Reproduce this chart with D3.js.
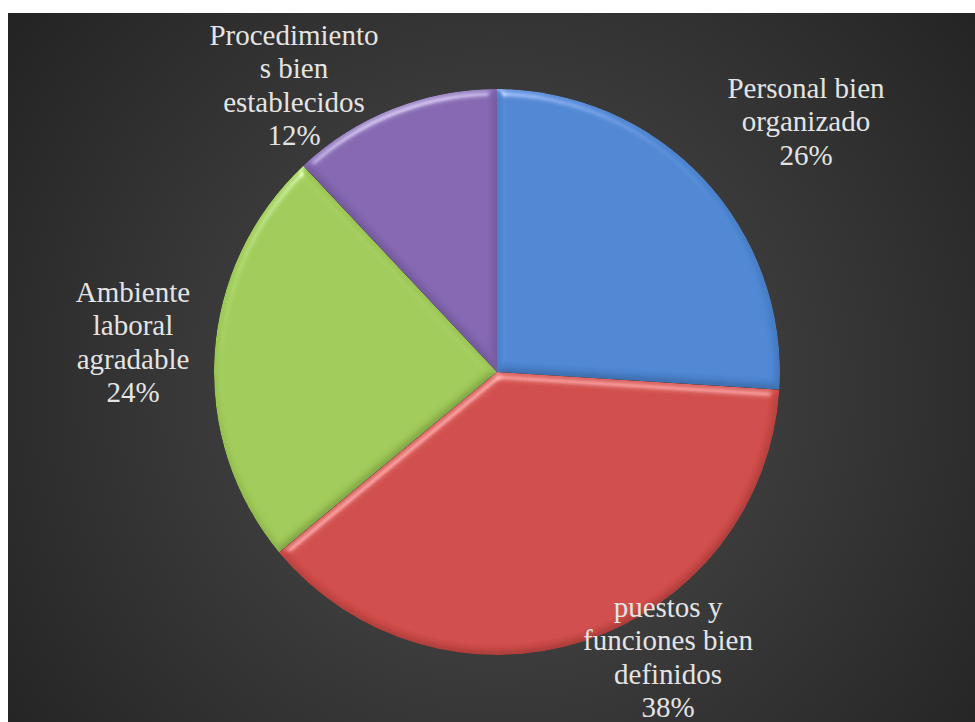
<!DOCTYPE html>
<html>
<head>
<meta charset="utf-8">
<script src="https://cdn.jsdelivr.net/npm/d3@7"></script>
<style>
  html, body { margin: 0; padding: 0; background: #ffffff; }
  svg { display: block; }
  .lbl { font-family: "Liberation Serif", "Tinos", "Noto Serif", "DejaVu Serif", "Times New Roman", Times, serif; }
</style>
</head>
<body>
<svg id="chart" width="975" height="722"></svg>
<script>
// Survey shares, clockwise from 12 o'clock
const categories = [
  "Personal bien organizado",
  "puestos y funciones bien definidos",
  "Ambiente laboral agradable",
  "Procedimientos bien establecidos"
];
const values = [26, 38, 24, 12];
const labelLines = [
  ["Personal bien", "organizado"],
  ["puestos y", "funciones bien", "definidos"],
  ["Ambiente", "laboral", "agradable"],
  ["Procedimiento", "s bien", "establecidos"]
];
const colors = ["#4d86d2", "#d04c49", "#a0cb58", "#8366b0"];

// Label block anchors: centre x and baseline of the first line
const labelAnchors = [
  { x: 806, y: 98 },
  { x: 668, y: 617 },
  { x: 133, y: 302 },
  { x: 294, y: 45 }
];

const W = 975, H = 722;
const cx = 497, cy = 372, R = 283;
const svg = d3.select("#chart");
const defs = svg.append("defs");

// Dark radial backdrop
const bg = defs.append("radialGradient")
  .attr("id", "bgGrad")
  .attr("gradientUnits", "userSpaceOnUse")
  .attr("cx", 500).attr("cy", 390).attr("r", 620);
bg.append("stop").attr("offset", "0%").attr("stop-color", "#4e4e4e");
bg.append("stop").attr("offset", "100%").attr("stop-color", "#232323");

svg.append("rect")
  .attr("x", 8).attr("y", 13)
  .attr("width", W - 8).attr("height", H - 13)
  .attr("fill", "url(#bgGrad)");

// Soft bevel for each wedge
const bevel = defs.append("filter")
  .attr("id", "bevel")
  .attr("x", "-10%").attr("y", "-10%")
  .attr("width", "120%").attr("height", "120%");
bevel.append("feGaussianBlur")
  .attr("in", "SourceAlpha").attr("stdDeviation", 4).attr("result", "blur");
const spec = bevel.append("feSpecularLighting")
  .attr("in", "blur").attr("surfaceScale", 5)
  .attr("specularConstant", 0.7).attr("specularExponent", 30)
  .attr("lighting-color", "#ffffff").attr("result", "spec");
spec.append("feDistantLight").attr("azimuth", 250).attr("elevation", 35);
bevel.append("feComposite")
  .attr("in", "spec").attr("in2", "SourceAlpha")
  .attr("operator", "in").attr("result", "specOut");
const diff = bevel.append("feDiffuseLighting")
  .attr("in", "blur").attr("surfaceScale", 5)
  .attr("diffuseConstant", 1.0)
  .attr("lighting-color", "#ffffff").attr("result", "diff");
diff.append("feDistantLight").attr("azimuth", 250).attr("elevation", 60);
bevel.append("feComposite")
  .attr("in", "SourceGraphic").attr("in2", "diff")
  .attr("operator", "arithmetic")
  .attr("k1", 0.6).attr("k2", 0.48).attr("k3", 0).attr("k4", 0)
  .attr("result", "shaded");
bevel.append("feComposite")
  .attr("in", "shaded").attr("in2", "specOut")
  .attr("operator", "arithmetic")
  .attr("k1", 0).attr("k2", 1).attr("k3", 0.5).attr("k4", 0)
  .attr("result", "lit");
bevel.append("feComposite")
  .attr("in", "lit").attr("in2", "SourceAlpha").attr("operator", "in");

const pie = d3.pie().sort(null).value(d => d)(values);
const arc = d3.arc().innerRadius(0).outerRadius(R);

const g = svg.append("g").attr("transform", `translate(${cx},${cy})`);
g.selectAll("path.slice")
  .data(pie)
  .join("path")
  .attr("class", "slice")
  .attr("d", arc)
  .attr("fill", (d, i) => colors[i])
  .attr("filter", "url(#bevel)");

// Category + percentage labels
const total = d3.sum(values);
const fmt = d3.format(".0%");
const lineH = 33.3;
labelLines.forEach((lines, i) => {
  const t = svg.append("text")
    .attr("class", "lbl")
    .attr("text-anchor", "middle")
    .attr("font-size", 29)
    .attr("fill", "#e4e4e4");
  lines.concat([fmt(values[i] / total)]).forEach((s, k) => {
    t.append("tspan")
      .attr("x", labelAnchors[i].x)
      .attr("y", labelAnchors[i].y + k * lineH)
      .text(s);
  });
});
</script>
</body>
</html>
